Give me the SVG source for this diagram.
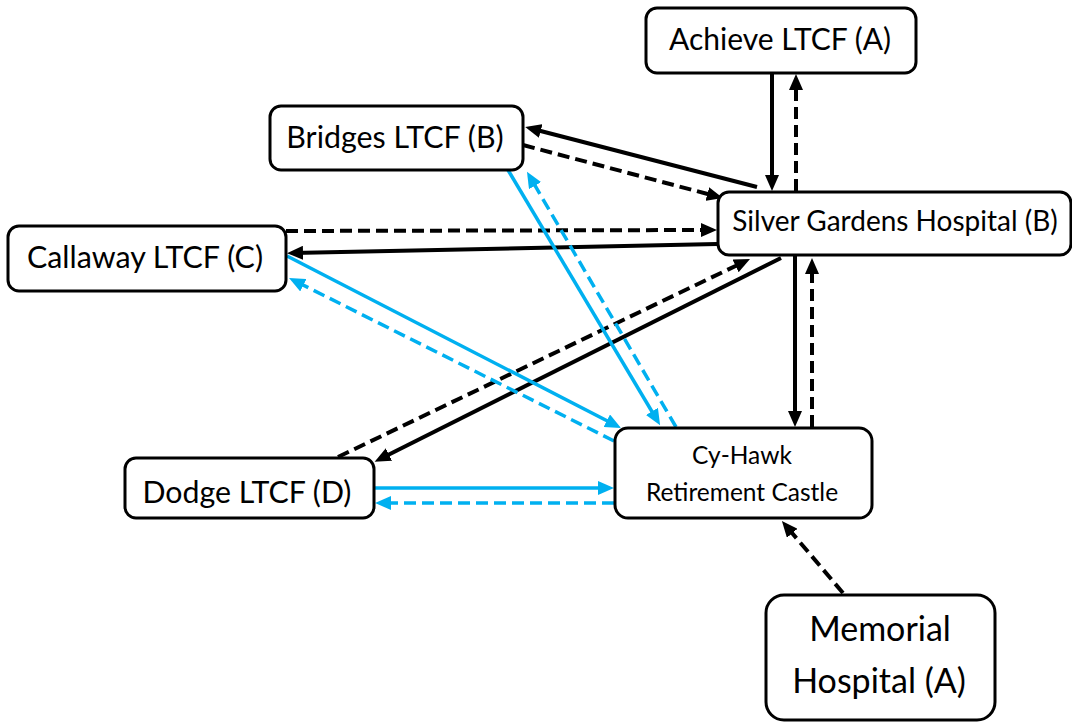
<svg xmlns="http://www.w3.org/2000/svg" width="1072" height="724" viewBox="0 0 1072 724">
<style>
.box{fill:#fff;stroke:#000;stroke-width:3}
.t{font-family:Lato,"Liberation Sans",sans-serif;fill:#000;text-anchor:middle}
.k{stroke:#000;stroke-width:4;fill:none}
.b{stroke:#00B0F0;stroke-width:3.5;fill:none}
.d{stroke-dasharray:12 6}
.ka{marker-end:url(#ak)}
.ba{marker-end:url(#ab)}
</style>
<defs>
<marker id="ak" markerUnits="userSpaceOnUse" markerWidth="18" markerHeight="14" refX="10" refY="7" orient="auto"><path d="M0,0 L16,7 L0,14 Z" fill="#000"/></marker>
<marker id="ab" markerUnits="userSpaceOnUse" markerWidth="18" markerHeight="14" refX="10" refY="7" orient="auto"><path d="M0,0 L16,7 L0,14 Z" fill="#00B0F0"/></marker>
</defs>
<rect width="1072" height="724" fill="#fff"/>
<g id="connectors">
<line class="k ka" x1="772" y1="73" x2="772" y2="185"/>
<line class="k ka d" x1="796" y1="191" x2="796" y2="80"/>
<line class="k ka" x1="757" y1="187" x2="531" y2="128.5"/>
<line class="k ka d" x1="523" y1="145" x2="717" y2="196.5"/>
<line class="k ka d" x1="286" y1="231" x2="711" y2="230"/>
<line class="k ka" x1="717" y1="244" x2="293" y2="253"/>
<line class="k ka" x1="781" y1="258" x2="380" y2="459"/>
<line class="k ka d" x1="338" y1="457" x2="744.6" y2="261.6"/>
<line class="k ka" x1="795" y1="256" x2="795" y2="421"/>
<line class="k ka d" x1="812" y1="427" x2="812" y2="264"/>
<line class="k ka d" x1="843" y1="593" x2="785.8" y2="525.6"/>
<line class="b ba" x1="508" y1="170" x2="657" y2="420"/>
<line class="b ba d" x1="676" y1="427" x2="530" y2="177"/>
<line class="b ba" x1="287" y1="256" x2="615.7" y2="425.3"/>
<line class="b ba d" x1="614" y1="441" x2="294.4" y2="280.7"/>
<line class="b ba" x1="374" y1="488" x2="608" y2="488"/>
<line class="b ba d" x1="614" y1="503" x2="381" y2="503"/>
</g>
<g id="achieve"><rect class="box" x="646" y="8" width="270" height="65" rx="11"/><text class="t" x="780" y="50" font-size="30">Achieve LTCF (A)</text></g>
<g id="bridges"><rect class="box" x="270" y="106" width="253" height="64" rx="11"/><text class="t" x="395" y="148" font-size="30.4">Bridges LTCF (B)</text></g>
<g id="silver"><rect class="box" x="718" y="192" width="353" height="63" rx="11"/><text class="t" x="895" y="231" font-size="28">Silver Gardens Hospital (B)</text></g>
<g id="callaway"><rect class="box" x="8" y="226" width="278" height="65" rx="11"/><text class="t" x="145" y="268" font-size="30.4">Callaway LTCF (C)</text></g>
<g id="cyhawk"><rect class="box" x="615" y="428" width="257" height="90" rx="13"/><text class="t" x="742" y="464" font-size="24.5">Cy-Hawk</text><text class="t" x="742" y="501" font-size="24.5">Retirement Castle</text></g>
<g id="dodge"><rect class="box" x="125" y="458" width="249" height="60" rx="11"/><text class="t" x="247" y="503" font-size="30.3">Dodge LTCF (D)</text></g>
<g id="memorial"><rect class="box" x="766" y="595" width="229" height="125" rx="18"/><text class="t" x="880" y="641" font-size="34">Memorial</text><text class="t" x="879" y="693" font-size="34">Hospital (A)</text></g>
</svg>
